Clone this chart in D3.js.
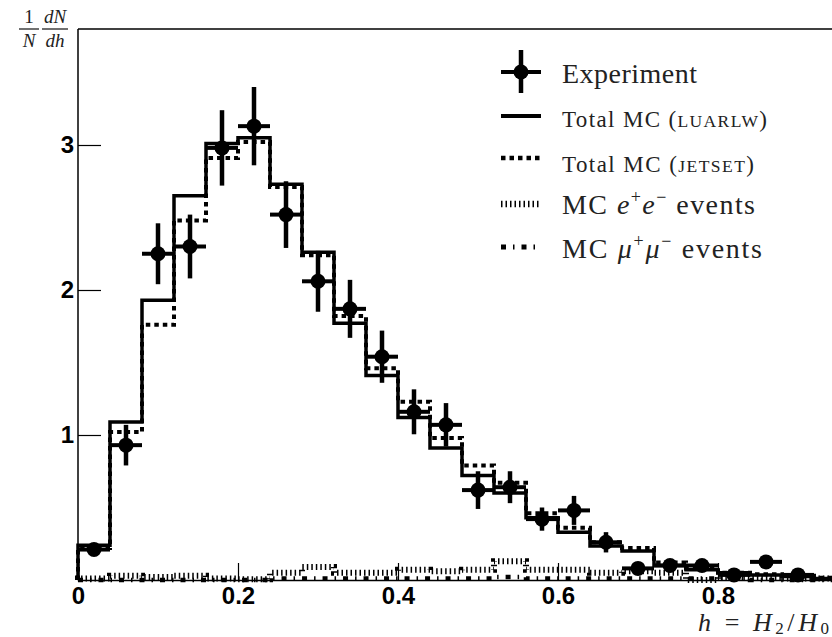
<!DOCTYPE html>
<meta charset="utf-8" />
<title>Hemisphere h = H2/H0 distribution</title>
<style>
  body { margin: 0; background: #fff; }
  svg { display: block; }
  .tick-label { font-family: "Liberation Sans", Arial, sans-serif; font-weight: bold; font-size: 24px; }
  .serif { font-family: "Liberation Serif", "Times New Roman", serif; fill: #222; }
</style>
<body>
<svg width="832" height="637"></svg>
<script src="https://d3js.org/d3.v7.min.js"></script>
<script>
  // bin edges are 0, 0.04, ... 1.0
  const binWidth = 0.04;
  const luarlw = [0.24, 1.09, 1.93, 2.65, 3.01, 3.05, 2.73, 2.26, 1.77, 1.41, 1.12, 0.91, 0.72, 0.60, 0.43, 0.33, 0.235, 0.20, 0.10, 0.07, 0.05, 0.035, 0.025, 0.01, 0.005];
  const jetset = [0.22, 1.02, 1.76, 2.48, 2.91, 3.02, 2.71, 2.24, 1.82, 1.46, 1.23, 0.98, 0.79, 0.67, 0.46, 0.36, 0.26, 0.22, 0.12, 0.08, 0.05, 0.04, 0.03, 0.015, 0.005];
  const eeEvents = [0.01, 0.03, 0.02, 0.03, 0.01, 0.005, 0.05, 0.09, 0.05, 0.05, 0.07, 0.06, 0.07, 0.13, 0.07, 0.07, 0.05, 0.06, 0.05, 0.0, 0.02, 0.02, 0.01, 0.01, 0.0];
  const mumuEvents = [0, 0, 0, 0, 0, 0, 0.01, 0.01, 0.01, 0.01, 0.01, 0.01, 0.01, 0.02, 0.01, 0.01, 0.01, 0.01, 0.01, 0.01, 0.01, 0, 0, 0, 0];
  const expValues = [0.21, 0.93, 2.25, 2.30, 2.98, 3.13, 2.52, 2.06, 1.87, 1.54, 1.16, 1.07, 0.62, 0.64, 0.42, 0.48, 0.26, 0.08, 0.10, 0.10, 0.035, 0.125, 0.035];
  const expErrors = [0.04, 0.14, 0.21, 0.22, 0.26, 0.27, 0.23, 0.21, 0.20, 0.18, 0.155, 0.15, 0.13, 0.11, 0.08, 0.10, 0.07, 0.03, 0.03, 0.03, 0.02, 0.03, 0.02];
  const xTicks = [0, 0.2, 0.4, 0.6, 0.8];
  const yTicks = [1, 2, 3];

  const svg = d3.select("svg");
  const x = d3.scaleLinear().domain([0, 1]).range([78, 878]);
  const y = d3.scaleLinear().domain([0, 3.8]).range([580, 29]);

  // step outline of a histogram
  function stepPath(vals) {
    let d = `M${x(0)},${y(0)}`;
    vals.forEach((v, i) => {
      d += `L${x(i * binWidth)},${y(v)}L${x((i + 1) * binWidth)},${y(v)}`;
    });
    d += `L${x(vals.length * binWidth)},${y(0)}`;
    return d;
  }

  const hists = [
    { vals: eeEvents, width: 6, dash: "1.5,3" },
    { vals: mumuEvents, width: 4.5, dash: "5,7,1.5,7" },
    { vals: jetset, width: 4, dash: "4.5,4" },
    { vals: luarlw, width: 3.5, dash: null }
  ];

  // frame top
  svg.append("line").attr("x1", x(0)).attr("x2", x(1)).attr("y1", y(3.8)).attr("y2", y(3.8))
    .attr("stroke", "#000").attr("stroke-width", 1.5);

  svg.append("g").selectAll("path")
    .data(hists)
    .join("path")
    .attr("d", d => stepPath(d.vals))
    .attr("fill", "none")
    .attr("stroke", "#000")
    .attr("stroke-width", d => d.width)
    .attr("stroke-dasharray", d => d.dash);

  // axes
  const xAxis = d3.axisBottom(x).tickValues(xTicks).tickSize(-17).tickFormat(d => d === 0 ? "0" : d3.format(".1f")(d)).tickPadding(7);
  const gx = svg.append("g").attr("transform", `translate(0,${y(0)})`).call(xAxis);
  gx.select(".domain").attr("stroke-width", 1.5);
  gx.selectAll(".tick line").attr("stroke-width", 1.2);
  gx.selectAll(".tick text").attr("class", "tick-label").attr("fill", "#000");

  const yAxis = d3.axisLeft(y).tickValues(yTicks).tickSize(-23).tickFormat(d3.format("d")).tickPadding(4);
  const gy = svg.append("g").attr("transform", `translate(${x(0)},0)`).call(yAxis);
  gy.select(".domain").attr("stroke-width", 1.5).attr("d", `M0,${y(0)}V${y(3.8)}`);
  gy.selectAll(".tick line").attr("stroke-width", 1.2);
  gy.selectAll(".tick text").attr("class", "tick-label").attr("fill", "#000");

  // experiment points
  const pts = svg.append("g").selectAll("g")
    .data(expValues.map((v, i) => ({ c: (i + 0.5) * binWidth, v, e: expErrors[i] })))
    .join("g");
  pts.append("line")
    .attr("x1", d => x(d.c - binWidth / 2)).attr("x2", d => x(d.c + binWidth / 2))
    .attr("y1", d => y(d.v)).attr("y2", d => y(d.v))
    .attr("stroke", "#000").attr("stroke-width", 4);
  pts.append("line")
    .attr("x1", d => x(d.c)).attr("x2", d => x(d.c))
    .attr("y1", d => y(d.v - d.e)).attr("y2", d => y(d.v + d.e))
    .attr("stroke", "#000").attr("stroke-width", 4.5);
  pts.append("circle")
    .attr("cx", d => x(d.c)).attr("cy", d => y(d.v)).attr("r", 7.5).attr("fill", "#000");

  // legend
  const leg = svg.append("g");
  const ex = leg.append("g");
  ex.append("line").attr("x1", 501).attr("x2", 541).attr("y1", 72).attr("y2", 72).attr("stroke", "#000").attr("stroke-width", 4);
  ex.append("line").attr("x1", 521).attr("x2", 521).attr("y1", 50).attr("y2", 93).attr("stroke", "#000").attr("stroke-width", 4.5);
  ex.append("circle").attr("cx", 521).attr("cy", 72).attr("r", 7.5).attr("fill", "#000");
  leg.append("text").attr("class", "serif").attr("x", 562).attr("y", 83).attr("font-size", 28)
    .attr("textLength", 135).attr("lengthAdjust", "spacing").text("Experiment");

  const legRows = [
    { y: 116, h: hists[3] },
    { y: 158, h: hists[2] },
    { y: 204, h: hists[0] },
    { y: 247, h: hists[1] }
  ];
  leg.selectAll("line.row").data(legRows).join("line")
    .attr("class", "row")
    .attr("x1", 501).attr("x2", 541).attr("y1", d => d.y).attr("y2", d => d.y)
    .attr("stroke", "#000").attr("stroke-width", d => d.h.width + 0.5)
    .attr("stroke-dasharray", d => d.h.dash);

  function totalText(yb, name, len) {
    const t = leg.append("text").attr("class", "serif").attr("x", 562).attr("y", yb).attr("font-size", 23)
      .attr("textLength", len).attr("lengthAdjust", "spacing");
    t.append("tspan").text("Total MC (");
    t.append("tspan").attr("font-size", 17.5).text(name);
    t.append("tspan").text(")");
  }
  totalText(127, "LUARLW", 205);
  totalText(172, "JETSET", 192);

  function particleText(yb, sym, len) {
    const t = leg.append("text").attr("class", "serif").attr("x", 562).attr("y", yb).attr("font-size", 28)
      .attr("textLength", len).attr("lengthAdjust", "spacing");
    t.append("tspan").text("MC ");
    t.append("tspan").attr("font-style", "italic").text(sym);
    t.append("tspan").attr("font-size", 18).attr("dy", -11).text("+");
    t.append("tspan").attr("font-style", "italic").attr("dy", 11).text(sym);
    t.append("tspan").attr("font-size", 18).attr("dy", -11).text("\u2212");
    t.append("tspan").attr("dy", 11).text(" events");
  }
  particleText(214, "e", 193);
  particleText(258, "\u03bc", 200);

  // x label
  const xl = svg.append("text").attr("class", "serif").attr("x", 829).attr("y", 631)
    .attr("font-size", 26).attr("text-anchor", "end")
    .attr("textLength", 131).attr("lengthAdjust", "spacing");
  xl.append("tspan").attr("font-style", "italic").text("h");
  xl.append("tspan").text(" = ");
  xl.append("tspan").attr("font-style", "italic").text("H");
  xl.append("tspan").attr("font-size", 17).attr("dy", 3).text("2");
  xl.append("tspan").attr("dy", -3).text("/");
  xl.append("tspan").attr("font-style", "italic").text("H");
  xl.append("tspan").attr("font-size", 17).attr("dy", 3).text("0");

  // y label as a fraction
  const yl = svg.append("g").attr("class", "serif").attr("font-size", 19);
  yl.append("text").attr("x", 29).attr("y", 23).attr("text-anchor", "middle").text("1");
  yl.append("text").attr("x", 29).attr("y", 47).attr("text-anchor", "middle").attr("font-style", "italic").text("N");
  yl.append("text").attr("x", 55).attr("y", 23).attr("text-anchor", "middle").attr("font-style", "italic").text("dN");
  yl.append("text").attr("x", 55).attr("y", 47).attr("text-anchor", "middle").attr("font-style", "italic").text("dh");
  yl.append("line").attr("x1", 19).attr("x2", 39).attr("y1", 29).attr("y2", 29).attr("stroke", "#222").attr("stroke-width", 1.3);
  yl.append("line").attr("x1", 42).attr("x2", 68).attr("y1", 29).attr("y2", 29).attr("stroke", "#222").attr("stroke-width", 1.3);
</script>
</body>
